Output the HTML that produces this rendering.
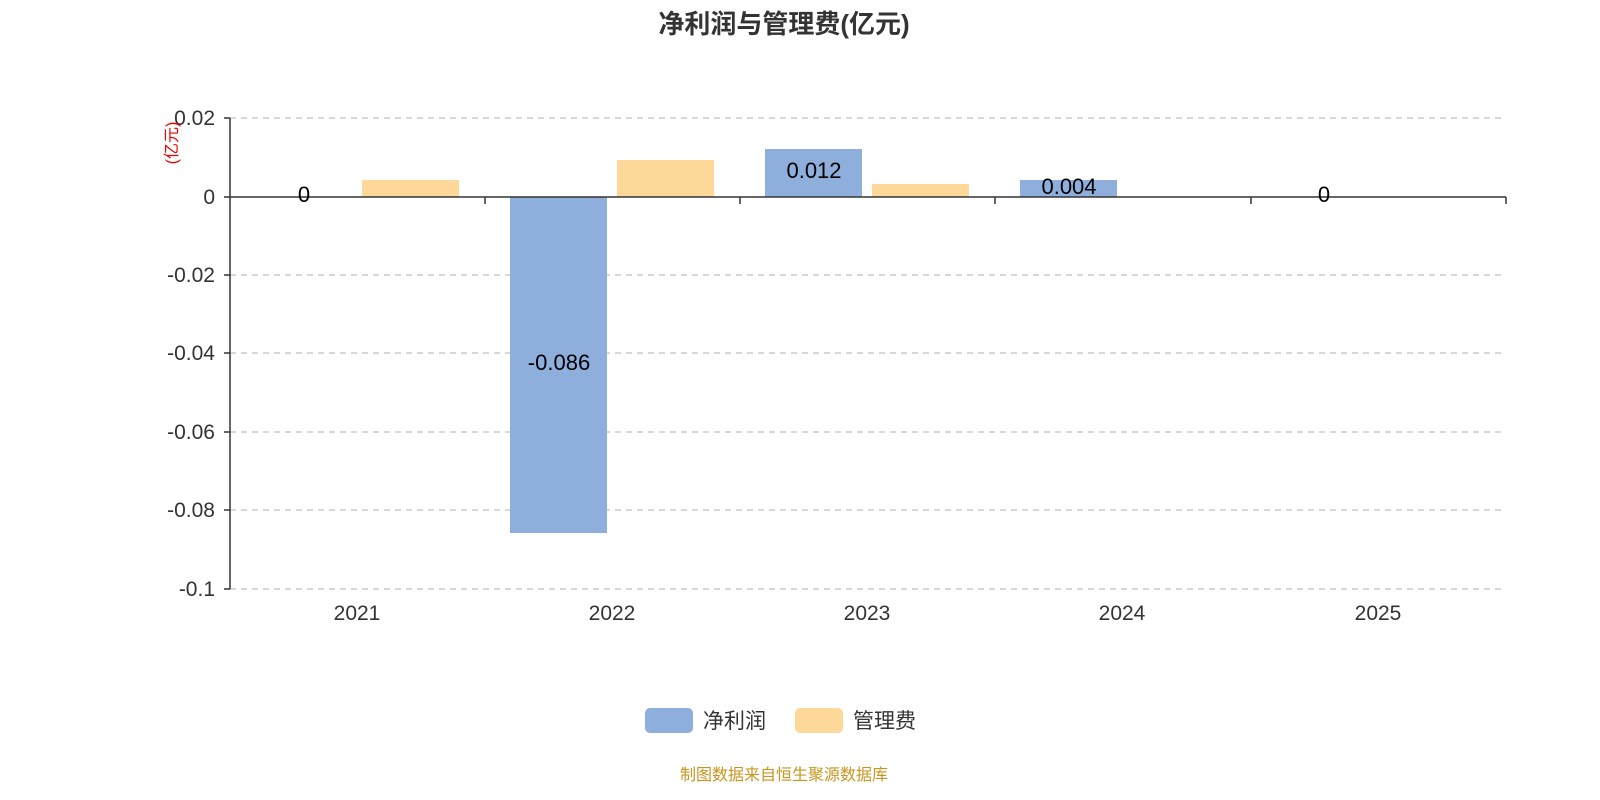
<!DOCTYPE html>
<html><head><meta charset="utf-8"><style>
html,body{margin:0;padding:0;background:#fff;}
svg{display:block;font-family:"Liberation Sans","Noto Sans CJK SC",sans-serif;}
</style></head><body>
<svg width="1600" height="800" viewBox="0 0 1600 800" xmlns="http://www.w3.org/2000/svg">
<rect width="1600" height="800" fill="#fff"/>
<text x="784" y="33" text-anchor="middle" font-size="26" font-weight="bold" fill="#333">净利润与管理费(亿元)</text>
<g stroke="#ccc" stroke-width="1.5" stroke-dasharray="6,5">
<line x1="230" y1="118" x2="1506" y2="118"/>
<line x1="230" y1="275" x2="1506" y2="275"/>
<line x1="230" y1="353" x2="1506" y2="353"/>
<line x1="230" y1="432" x2="1506" y2="432"/>
<line x1="230" y1="510" x2="1506" y2="510"/>
<line x1="230" y1="589" x2="1506" y2="589"/>
</g>
<g fill="#8eaedb">
<rect x="510" y="197" width="97" height="336"/>
<rect x="765" y="149" width="97" height="48"/>
<rect x="1020" y="180" width="97" height="17"/>
</g>
<g fill="#fdd898">
<rect x="362" y="180" width="97" height="17"/>
<rect x="617" y="160" width="97" height="37"/>
<rect x="872" y="184" width="97" height="13"/>
</g>
<g stroke="#333" stroke-width="1.5">
<line x1="230" y1="118" x2="230" y2="589"/>
<line x1="224" y1="118" x2="230" y2="118"/>
<line x1="224" y1="197" x2="230" y2="197"/>
<line x1="224" y1="275" x2="230" y2="275"/>
<line x1="224" y1="353" x2="230" y2="353"/>
<line x1="224" y1="432" x2="230" y2="432"/>
<line x1="224" y1="510" x2="230" y2="510"/>
<line x1="224" y1="589" x2="230" y2="589"/>
<line x1="230" y1="197" x2="1506" y2="197"/>
<line x1="485" y1="197" x2="485" y2="204"/>
<line x1="740" y1="197" x2="740" y2="204"/>
<line x1="995" y1="197" x2="995" y2="204"/>
<line x1="1251" y1="197" x2="1251" y2="204"/>
<line x1="1506" y1="197" x2="1506" y2="204"/>
</g>
<g font-size="21" fill="#333" text-anchor="end">
<text x="215" y="125">0.02</text>
<text x="215" y="204">0</text>
<text x="215" y="282">-0.02</text>
<text x="215" y="360">-0.04</text>
<text x="215" y="439">-0.06</text>
<text x="215" y="517">-0.08</text>
<text x="215" y="596">-0.1</text>
</g>
<text transform="translate(177,143) rotate(-90)" font-size="16" fill="#e00" text-anchor="middle">(亿元)</text>
<g font-size="21" fill="#333" text-anchor="middle">
<text x="357" y="620">2021</text>
<text x="612" y="620">2022</text>
<text x="867" y="620">2023</text>
<text x="1122" y="620">2024</text>
<text x="1378" y="620">2025</text>
</g>
<g font-size="22" fill="#000" text-anchor="middle">
<text x="304" y="202">0</text>
<text x="559" y="370">-0.086</text>
<text x="814" y="178">0.012</text>
<text x="1069" y="194">0.004</text>
<text x="1324" y="202">0</text>
</g>
<rect x="645" y="708" width="48" height="25" rx="5" fill="#8eaedb"/>
<text x="703" y="728" font-size="21" fill="#333">净利润</text>
<rect x="795" y="708" width="48" height="25" rx="5" fill="#fdd898"/>
<text x="853" y="728" font-size="21" fill="#333">管理费</text>
<text x="784" y="780" font-size="16" fill="#c8961e" text-anchor="middle">制图数据来自恒生聚源数据库</text>
</svg>
</body></html>
